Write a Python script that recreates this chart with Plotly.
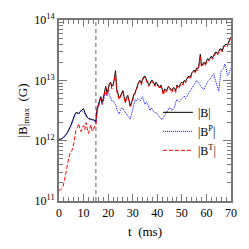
import plotly.graph_objects as go

t = [i * 0.5 for i in range(141)]  # 0 .. 70 ms

# log10 of the maximum field strength (G)
logB = [
    12.02, 12.02, 12.03, 12.04, 12.06, 12.08, 12.11, 12.14, 12.18, 12.22,
    12.27, 12.33, 12.4, 12.44, 12.47, 12.46, 12.45, 12.48, 12.5, 12.52,
    12.53, 12.47, 12.42, 12.39, 12.37, 12.36, 12.36, 12.35, 12.35, 12.33,
    12.32,
    12.53, 12.58, 12.66, 12.73, 12.64, 12.7, 12.8, 12.9, 12.8, 12.85,
    12.94, 12.97, 12.9, 12.93, 13.02, 13.16, 12.85, 12.78, 12.71, 12.74,
    12.8, 12.83, 12.73, 12.65, 12.72, 12.75, 12.67, 12.58, 12.63, 12.72,
    12.77, 12.8, 12.86, 12.92, 12.98, 13.0, 12.95, 13.02, 13.06, 13.07,
    13.02, 12.98, 12.93, 12.94, 12.99, 13.0, 12.95, 12.92, 12.97, 12.94,
    12.9, 12.88, 12.92, 12.83, 12.79, 12.86, 12.83, 12.85, 12.9, 12.88,
    12.86, 12.83, 12.88, 12.87, 12.83, 12.92, 12.89, 12.9, 12.95, 12.97,
    12.95, 13.0, 12.98, 13.02, 13.06, 13.07, 13.05, 13.12, 13.14, 13.17,
    13.14, 13.2, 13.19, 13.27, 13.43, 13.24, 13.27, 13.3, 13.27, 13.32,
    13.36, 13.34, 13.38, 13.4, 13.37, 13.42, 13.46, 13.47, 13.44, 13.48,
    13.52, 13.52, 13.49, 13.57, 13.59, 13.6, 13.58, 13.64, 13.68, 13.72,
]

logBP = [
    12.02, 12.02, 12.03, 12.04, 12.05, 12.07, 12.1, 12.13, 12.17, 12.21,
    12.25, 12.31, 12.38, 12.43, 12.46, 12.45, 12.44, 12.47, 12.5, 12.49,
    12.47, 12.44, 12.4, 12.38, 12.36, 12.35, 12.35, 12.34, 12.34, 12.32,
    12.3,
    12.5, 12.58, 12.66, 12.72, 12.62, 12.65, 12.74, 12.8, 12.74, 12.82,
    12.76, 12.7, 12.66, 12.66, 12.62, 12.6, 12.52, 12.48, 12.44, 12.5,
    12.55, 12.53, 12.5, 12.46, 12.42, 12.4, 12.38, 12.36, 12.45, 12.55,
    12.62, 12.68, 12.66, 12.7, 12.68, 12.66, 12.7, 12.73, 12.66, 12.6,
    12.64, 12.62, 12.56, 12.5, 12.54, 12.52, 12.48, 12.46, 12.47, 12.44,
    12.4, 12.38, 12.36, 12.35, 12.38, 12.42, 12.46, 12.48, 12.52, 12.55,
    12.52, 12.5, 12.53, 12.55, 12.64, 12.68, 12.66, 12.65, 12.68, 12.7,
    12.73, 12.74, 12.7, 12.72, 12.77, 12.8, 12.83, 12.85, 12.88, 12.92,
    12.96, 13.0, 12.97, 12.95, 12.92, 12.9, 12.86, 12.85, 12.9, 12.95,
    12.98, 13.0, 13.02, 13.05, 13.08, 13.11, 13.02, 12.95, 12.86, 12.82,
    13.0, 13.16, 13.18, 13.2, 13.27, 13.2, 13.08, 13.1, 13.16, 13.2,
]

logBT = [
    11.18, 11.18, 11.2, 11.22, 11.3, 11.38, 11.5, 11.62, 11.75, 11.8,
    11.82, 11.86, 11.95, 12.05, 12.2, 12.22, 12.28, 12.2, 12.15, 12.22,
    12.25, 12.18, 12.3, 12.2, 12.12, 12.2, 12.26, 12.16, 12.18, 12.24,
    12.25,
    12.5, 12.55, 12.62, 12.7, 12.6, 12.66, 12.78, 12.88, 12.76, 12.82,
    12.92, 12.95, 12.86, 12.9, 13.0, 13.12, 12.82, 12.75, 12.68, 12.72,
    12.78, 12.8, 12.7, 12.62, 12.7, 12.72, 12.64, 12.55, 12.6, 12.7,
    12.74, 12.78, 12.84, 12.9, 12.96, 12.98, 12.92, 13.0, 13.04, 13.05,
    13.0, 12.96, 12.9, 12.92, 12.97, 12.98, 12.93, 12.9, 12.95, 12.92,
    12.87, 12.86, 12.9, 12.8, 12.76, 12.84, 12.8, 12.82, 12.88, 12.86,
    12.83, 12.8, 12.86, 12.84, 12.8, 12.9, 12.86, 12.88, 12.93, 12.95,
    12.92, 12.98, 12.96, 13.0, 13.04, 13.05, 13.02, 13.1, 13.12, 13.15,
    13.12, 13.18, 13.16, 13.25, 13.4, 13.22, 13.25, 13.28, 13.24, 13.3,
    13.34, 13.32, 13.36, 13.38, 13.35, 13.4, 13.44, 13.45, 13.42, 13.46,
    13.5, 13.5, 13.47, 13.55, 13.57, 13.58, 13.56, 13.62, 13.66, 13.7,
]

y_tickvals = [1e11, 1e12, 1e13, 1e14]
y_ticktext = ["10<sup>11</sup>", "10<sup>12</sup>", "10<sup>13</sup>", "10<sup>14</sup>"]
x_tickvals = [0, 10, 20, 30, 40, 50, 60, 70]
t_merger = 15

FONT = "Liberation Serif, DejaVu Serif, serif"

fig = go.Figure()
fig.add_trace(go.Scatter(x=t, y=[10 ** v for v in logB], mode="lines", name="|B|",
                         line=dict(color="black", width=1)))
fig.add_trace(go.Scatter(x=t, y=[10 ** v for v in logBP], mode="lines", name="|B<sup>P</sup>|",
                         line=dict(color="blue", width=1, dash="1px,1px")))
fig.add_trace(go.Scatter(x=t, y=[10 ** v for v in logBT], mode="lines", name="|B<sup>T</sup>|",
                         line=dict(color="red", width=1, dash="4px,2px")))

fig.add_shape(type="line", x0=t_merger, x1=t_merger, y0=0, y1=1, xref="x", yref="paper",
              line=dict(color="#999999", width=1.5, dash="4px,3px"), layer="below")

axis_common = dict(showline=True, linecolor="#777777", linewidth=2, mirror="ticks",
                   ticks="inside", tickcolor="#777777", tickwidth=1, showgrid=False, zeroline=False,
                   tickfont=dict(family=FONT, size=12, color="black"))

fig.update_xaxes(range=[0, 70], tickvals=x_tickvals, ticklen=7,
                 minor=dict(ticks="inside", dtick=2, ticklen=4, tickcolor="#777777"),
                 title=dict(text="t  (ms)", font=dict(family=FONT, size=13, color="black"), standoff=7),
                 **axis_common)
fig.update_yaxes(type="log", range=[11, 14], tickvals=y_tickvals, ticktext=y_ticktext, ticklen=8,
                 minor=dict(ticks="inside", ticklen=4, tickcolor="#777777",
                            tickvals=[m * 10 ** e for e in (11, 12, 13) for m in range(2, 10)]),
                 title=dict(text="|B|<sub>max</sub>  (G)", font=dict(family=FONT, size=13, color="black"), standoff=4),
                 **axis_common)

fig.update_layout(
    width=249, height=249,
    margin=dict(l=59, r=13, t=14, b=45),
    paper_bgcolor="white", plot_bgcolor="white",
    showlegend=True,
    legend=dict(x=0.575, y=0.57, xanchor="left", yanchor="top", bgcolor="rgba(0,0,0,0)",
                font=dict(family=FONT, size=12, color="black"), itemwidth=30,
                tracegroupgap=0),
)

fig.write_html("out.html", config={"displayModeBar": False},
               post_script="document.body.style.margin='0';document.body.style.overflow='hidden';")
